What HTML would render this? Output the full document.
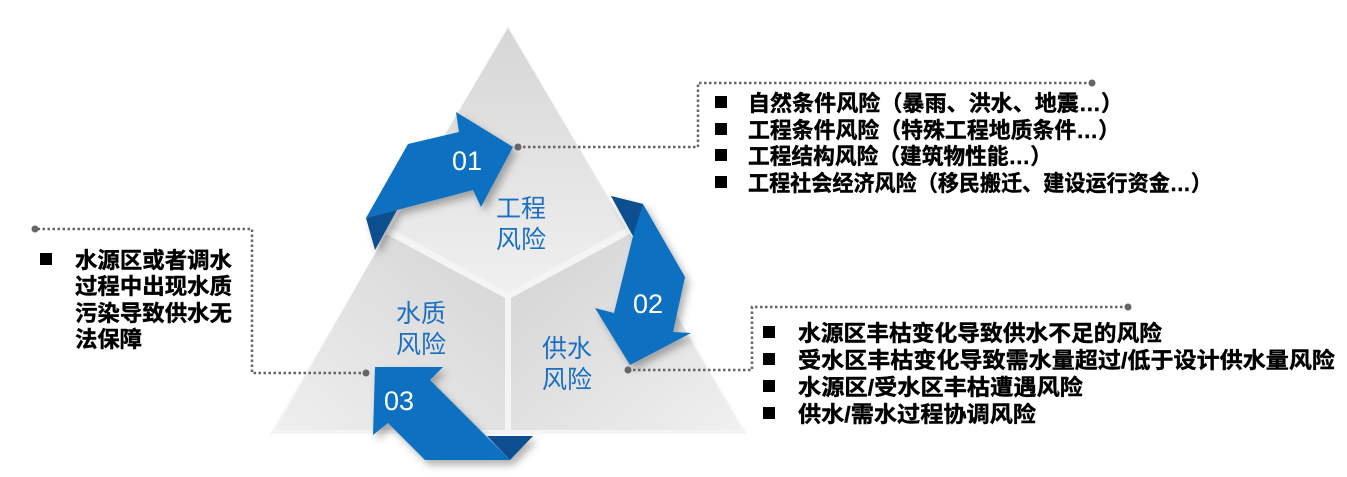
<!DOCTYPE html>
<html><head><meta charset="utf-8"><style>
html,body{margin:0;padding:0;background:#fff;}
svg{display:block;}
.t{font-family:"Liberation Sans","Noto Sans CJK SC",sans-serif;font-weight:bold;font-size:22px;fill:#000;stroke:#000;stroke-width:0.4;}
.b{font-family:"Liberation Sans","Noto Sans CJK SC",sans-serif;font-size:25px;fill:#1a6fc0;}
.n{font-family:"Liberation Sans","Noto Sans CJK SC",sans-serif;font-size:27px;fill:#fff;}
</style></head><body>
<svg width="1347" height="477" viewBox="0 0 1347 477">
<defs>
<linearGradient id="g1" x1="0" y1="0" x2="0" y2="1"><stop offset="0" stop-color="#d6d6d6"/><stop offset="1" stop-color="#f0f0f0"/></linearGradient>
<linearGradient id="g2" x1="1" y1="0" x2="0" y2="1"><stop offset="0" stop-color="#d4d4d4"/><stop offset="1" stop-color="#efefef"/></linearGradient>
<linearGradient id="g3" x1="0" y1="0" x2="1" y2="1"><stop offset="0" stop-color="#d2d2d2"/><stop offset="1" stop-color="#f0f0f0"/></linearGradient>
<filter id="sh" x="-20%" y="-20%" width="150%" height="150%"><feDropShadow dx="4" dy="5" stdDeviation="4" flood-color="#000" flood-opacity="0.3"/></filter>
</defs>
<polygon points="508,26 270,434 747,434" fill="#f4f4f4"/>
<polygon points="508,28 390,228 508,293 626,228" fill="url(#g1)"/>
<polygon points="386,234 275,430 505,430 505,298" fill="url(#g2)"/>
<polygon points="630,234 742,430 511,430 511,298" fill="url(#g3)"/>
<g filter="url(#sh)">
<polygon points="366,218 408,144 459,132 456,112 513,147 481,207 473,190 397,210" fill="#0870c0"/>
<polygon points="366,218 397,210 375,250" fill="#0a4f8e"/>
<polygon points="611,196 643,204 685,277 673,332 691,333 630,365 595,308 614,313 633,236" fill="#0870c0"/>
<polygon points="611,196 643,204 633,236" fill="#0a4f8e"/>
<polygon points="375,367 443,367 430,380 510,460 425,460 388,423 373,435" fill="#0870c0"/>
<polygon points="487,436 533,436 510,460" fill="#0a4f8e"/>
</g>
<text class="n" x="452" y="170">01</text>
<text class="n" x="633" y="313">02</text>
<text class="n" x="384" y="410">03</text>
<text class="b" x="496" y="217">工程</text>
<text class="b" x="496" y="248">风险</text>
<text class="b" x="542" y="357">供水</text>
<text class="b" x="542" y="388">风险</text>
<text class="b" x="396" y="322">水质</text>
<text class="b" x="396" y="353">风险</text>
<g fill="none" stroke="#666" stroke-width="2.5" stroke-dasharray="2.5,2.5">
<polyline points="518,147 698,147 698,83 1092,83"/>
<polyline points="628,370 752,370 752,307 1128,307"/>
<polyline points="366,373 252,373 252,229 35,229"/>
</g>
<g fill="#666"><circle cx="518" cy="147" r="3.5"/><circle cx="1092" cy="83" r="3.5"/><circle cx="628" cy="370" r="3.5"/><circle cx="1128" cy="307" r="3.5"/><circle cx="366" cy="373" r="3.5"/><circle cx="35" cy="229" r="3.5"/></g>
<g fill="#000">
<rect x="715" y="96" width="12" height="12"/><rect x="715" y="123" width="12" height="12"/><rect x="715" y="149" width="12" height="12"/><rect x="715" y="176" width="12" height="12"/>
<rect x="763" y="326" width="12" height="12"/><rect x="763" y="353" width="12" height="12"/><rect x="763" y="380" width="12" height="12"/><rect x="763" y="407" width="12" height="12"/>
<rect x="40" y="253" width="12" height="12"/>
</g>
<text class="t" x="748" y="111" textLength="375" lengthAdjust="spacingAndGlyphs">自然条件风险（暴雨、洪水、地震…）</text>
<text class="t" x="748" y="138" textLength="372" lengthAdjust="spacingAndGlyphs">工程条件风险（特殊工程地质条件…）</text>
<text class="t" x="748" y="164" textLength="304" lengthAdjust="spacingAndGlyphs">工程结构风险（建筑物性能…）</text>
<text class="t" x="748" y="191" textLength="464" lengthAdjust="spacingAndGlyphs">工程社会经济风险（移民搬迁、建设运行资金…）</text>
<text class="t" x="798" y="341" textLength="364" lengthAdjust="spacingAndGlyphs">水源区丰枯变化导致供水不足的风险</text>
<text class="t" x="798" y="368" textLength="537" lengthAdjust="spacingAndGlyphs">受水区丰枯变化导致需水量超过/低于设计供水量风险</text>
<text class="t" x="798" y="395" textLength="285" lengthAdjust="spacingAndGlyphs">水源区/受水区丰枯遭遇风险</text>
<text class="t" x="798" y="422" textLength="238" lengthAdjust="spacingAndGlyphs">供水/需水过程协调风险</text>
<text class="t" x="75" y="268" textLength="157" lengthAdjust="spacingAndGlyphs">水源区或者调水</text>
<text class="t" x="75" y="294" textLength="157" lengthAdjust="spacingAndGlyphs">过程中出现水质</text>
<text class="t" x="75" y="321" textLength="157" lengthAdjust="spacingAndGlyphs">污染导致供水无</text>
<text class="t" x="75" y="347" textLength="67" lengthAdjust="spacingAndGlyphs">法保障</text>
</svg>
</body></html>
